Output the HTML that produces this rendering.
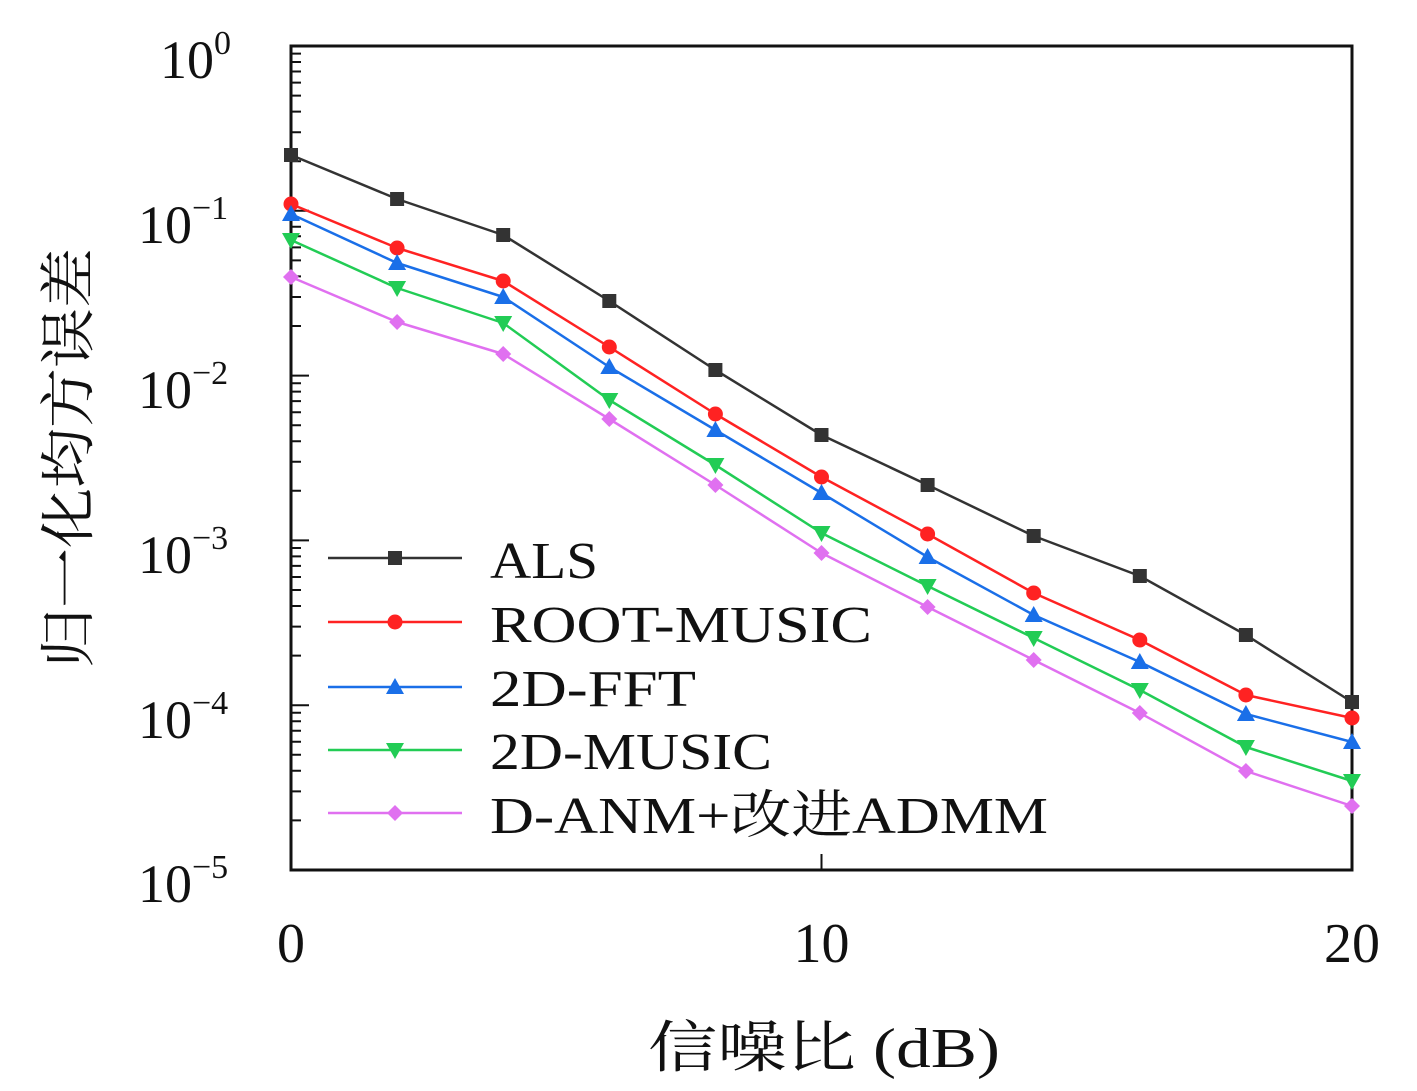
<!DOCTYPE html>
<html><head><meta charset="utf-8"><style>
html,body{margin:0;padding:0;background:#fff;}
svg text{font-family:"Liberation Serif","Noto Serif CJK SC",serif;fill:#111;}
</style></head><body>
<svg width="1417" height="1086" viewBox="0 0 1417 1086" xmlns="http://www.w3.org/2000/svg">
<defs>
<rect id="sq" x="-7" y="-7" width="14" height="14" fill="#333"/>
<circle id="ci" r="7.5" fill="#f22"/>
<polygon id="tu" points="0,-9 9,7 -9,7" fill="#1a6fe8"/>
<polygon id="td" points="0,9 9,-7 -9,-7" fill="#22cc55"/>
<polygon id="di" points="0,-8 8,0 0,8 -8,0" fill="#e070f0"/>
</defs>
<g stroke="#111" stroke-width="2" fill="none">
<path d="M291,46h18M291,210.8h18M291,375.6h18M291,540.4h18M291,705.2h18"/>
<path d="M291,161.2h10M291,132.2h10M291,111.6h10M291,95.6h10M291,82.6h10M291,71.5h10M291,62h10M291,53.6h10
M291,326h10M291,297h10M291,276.4h10M291,260.4h10M291,247.4h10M291,236.3h10M291,226.8h10M291,218.4h10
M291,490.8h10M291,461.8h10M291,441.2h10M291,425.2h10M291,412.2h10M291,401.1h10M291,391.6h10M291,383.2h10
M291,655.6h10M291,626.6h10M291,606h10M291,590h10M291,577h10M291,565.9h10M291,556.4h10M291,548h10
M291,820.4h10M291,791.4h10M291,770.8h10M291,754.8h10M291,741.8h10M291,730.7h10M291,721.2h10M291,712.8h10"/>
<path d="M821.5,870v-16"/>
<rect x="291" y="46" width="1061" height="824" stroke-width="3"/>
</g>
<g fill="none" stroke-width="2.5" stroke-linejoin="round">
<polyline stroke="#333" points="291,155 397.1,199 503.2,235 609.3,301 715.4,370 821.5,435 927.6,485 1033.7,536 1139.8,576 1245.9,635 1352,702"/>
<polyline stroke="#f22" points="291,204 397.1,248 503.2,281 609.3,347 715.4,414 821.5,477 927.6,534 1033.7,593 1139.8,640 1245.9,695 1352,718"/>
<polyline stroke="#1a6fe8" points="291,214 397.1,263 503.2,297 609.3,367 715.4,430 821.5,493 927.6,557 1033.7,615 1139.8,662 1245.9,714 1352,742"/>
<polyline stroke="#22cc55" points="291,240 397.1,288 503.2,323 609.3,400 715.4,465 821.5,533 927.6,586 1033.7,638 1139.8,690 1245.9,747 1352,781"/>
<polyline stroke="#e070f0" points="291,277 397.1,322 503.2,354 609.3,419 715.4,485 821.5,553 927.6,607 1033.7,660 1139.8,713 1245.9,771 1352,806"/>
</g>
<g>
<use href="#sq" x="291" y="155"/><use href="#sq" x="397.1" y="199"/><use href="#sq" x="503.2" y="235"/><use href="#sq" x="609.3" y="301"/><use href="#sq" x="715.4" y="370"/><use href="#sq" x="821.5" y="435"/><use href="#sq" x="927.6" y="485"/><use href="#sq" x="1033.7" y="536"/><use href="#sq" x="1139.8" y="576"/><use href="#sq" x="1245.9" y="635"/><use href="#sq" x="1352" y="702"/>
<use href="#ci" x="291" y="204"/><use href="#ci" x="397.1" y="248"/><use href="#ci" x="503.2" y="281"/><use href="#ci" x="609.3" y="347"/><use href="#ci" x="715.4" y="414"/><use href="#ci" x="821.5" y="477"/><use href="#ci" x="927.6" y="534"/><use href="#ci" x="1033.7" y="593"/><use href="#ci" x="1139.8" y="640"/><use href="#ci" x="1245.9" y="695"/><use href="#ci" x="1352" y="718"/>
<use href="#tu" x="291" y="214"/><use href="#tu" x="397.1" y="263"/><use href="#tu" x="503.2" y="297"/><use href="#tu" x="609.3" y="367"/><use href="#tu" x="715.4" y="430"/><use href="#tu" x="821.5" y="493"/><use href="#tu" x="927.6" y="557"/><use href="#tu" x="1033.7" y="615"/><use href="#tu" x="1139.8" y="662"/><use href="#tu" x="1245.9" y="714"/><use href="#tu" x="1352" y="742"/>
<use href="#td" x="291" y="240"/><use href="#td" x="397.1" y="288"/><use href="#td" x="503.2" y="323"/><use href="#td" x="609.3" y="400"/><use href="#td" x="715.4" y="465"/><use href="#td" x="821.5" y="533"/><use href="#td" x="927.6" y="586"/><use href="#td" x="1033.7" y="638"/><use href="#td" x="1139.8" y="690"/><use href="#td" x="1245.9" y="747"/><use href="#td" x="1352" y="781"/>
<use href="#di" x="291" y="277"/><use href="#di" x="397.1" y="322"/><use href="#di" x="503.2" y="354"/><use href="#di" x="609.3" y="419"/><use href="#di" x="715.4" y="485"/><use href="#di" x="821.5" y="553"/><use href="#di" x="927.6" y="607"/><use href="#di" x="1033.7" y="660"/><use href="#di" x="1139.8" y="713"/><use href="#di" x="1245.9" y="771"/><use href="#di" x="1352" y="806"/>
</g>
<g stroke-width="2.5">
<line x1="328" y1="558" x2="462" y2="558" stroke="#333"/><use href="#sq" x="395" y="558"/>
<line x1="328" y1="622" x2="462" y2="622" stroke="#f22"/><use href="#ci" x="395" y="622"/>
<line x1="328" y1="687" x2="462" y2="687" stroke="#1a6fe8"/><use href="#tu" x="395" y="687"/>
<line x1="328" y1="750" x2="462" y2="750" stroke="#22cc55"/><use href="#td" x="395" y="750"/>
<line x1="328" y1="813" x2="462" y2="813" stroke="#e070f0"/><use href="#di" x="395" y="813"/>
</g>
<g font-size="52">
<text x="490" y="578" textLength="108" lengthAdjust="spacingAndGlyphs">ALS</text>
<text x="490" y="642" textLength="382" lengthAdjust="spacingAndGlyphs">ROOT-MUSIC</text>
<text x="490" y="706" textLength="206" lengthAdjust="spacingAndGlyphs">2D-FFT</text>
<text x="490" y="769" textLength="282" lengthAdjust="spacingAndGlyphs">2D-MUSIC</text>
<text x="490" y="833" textLength="558" lengthAdjust="spacingAndGlyphs">D-ANM+改进ADMM</text>
</g>
<g font-size="54">
<text x="160" y="78">10<tspan font-size="34" dy="-24">0</tspan></text>
<text x="138" y="243">10<tspan font-size="34" dy="-24">−1</tspan></text>
<text x="138" y="408">10<tspan font-size="34" dy="-24">−2</tspan></text>
<text x="138" y="573">10<tspan font-size="34" dy="-24">−3</tspan></text>
<text x="138" y="738">10<tspan font-size="34" dy="-24">−4</tspan></text>
<text x="138" y="902">10<tspan font-size="34" dy="-24">−5</tspan></text>
</g>
<g font-size="56" text-anchor="middle">
<text x="291" y="962">0</text>
<text x="821.5" y="962">10</text>
<text x="1352" y="962">20</text>
<text x="824" y="1067" textLength="352" lengthAdjust="spacingAndGlyphs">信噪比 (dB)</text>
<text transform="translate(88,458) rotate(-90)" textLength="420" lengthAdjust="spacingAndGlyphs">归一化均方误差</text>
</g>
</svg>
</body></html>
